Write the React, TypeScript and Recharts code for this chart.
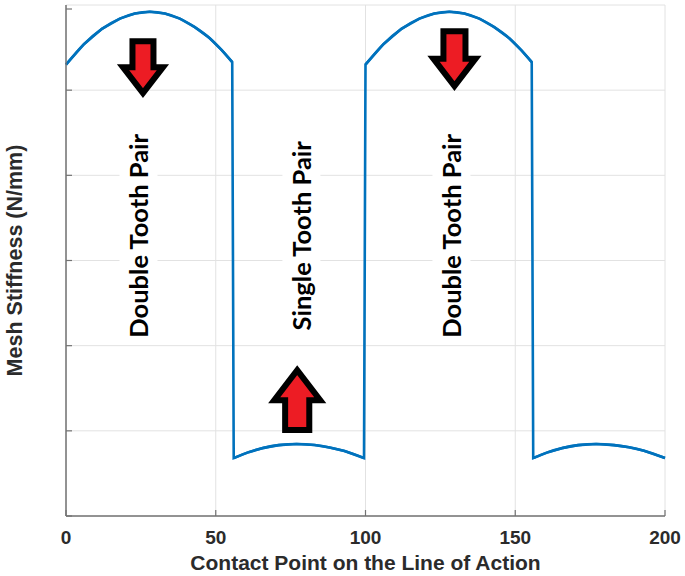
import { LineChart, Line, XAxis, YAxis, CartesianGrid, ReferenceDot } from 'recharts';

// contact position along the line of action and the mesh stiffness
const contactPoint = [
    0, 6, 12, 18, 23, 28, 33, 38, 43, 48, 52, 55.5,
    56, 61, 66, 71, 77, 83, 88, 93, 99.5,
    100, 106, 112, 118, 123, 128, 133, 138, 143, 148, 152, 155.5,
    156, 161, 166, 171, 177, 183, 188, 193, 200,
];
const meshStiffness = [
    5.30, 5.54, 5.72, 5.84, 5.90, 5.92, 5.90, 5.84, 5.74, 5.61, 5.47, 5.33,
    0.68, 0.75, 0.80, 0.832, 0.845, 0.833, 0.805, 0.762, 0.68,
    5.30, 5.54, 5.72, 5.84, 5.90, 5.92, 5.90, 5.84, 5.74, 5.61, 5.47, 5.33,
    0.68, 0.75, 0.80, 0.832, 0.845, 0.832, 0.807, 0.766, 0.68,
];
// index ranges of the smooth stretches between the jumps
const arcStart = [0, 12, 21, 33];
const arcEnd = [11, 20, 32, 41];

const xTicks = [0, 50, 100, 150, 200];
const yTicks = [0, 1, 2, 3, 4, 5, 6];

const regionNames = ['Double Tooth Pair', 'Single Tooth Pair', 'Double Tooth Pair'];
const regionX = [24.2, 78.6, 128.7];
const regionY = [3.29, 3.29, 3.29];

const arrowX = [25.7, 129.7, 77.2];
const arrowY = [5.27, 5.37, 1.36];
const arrowDir = ['down', 'down', 'up'];
const arrowScale = [1, 1.05, 1.15];

const data = contactPoint.map((x, i) => ({ x, k: meshStiffness[i] }));
const arcs = arcStart.map((s, i) => data.slice(s, arcEnd[i] + 1));

const AXIS = '#737373';
const TEXT = '#2b2b2b';
const BLUE = '#0072bd';
const FONT = '"Liberation Sans", Arial, sans-serif';

const bottomTick = (props: any) => {
    const { x, y, payload } = props;
    return (
        <g>
            <line x1={x} x2={x} y1={y} y2={y - 6} stroke={AXIS} strokeWidth={1.2} />
            <text x={x} y={y + 28} textAnchor="middle" fill={TEXT} fontSize={19} fontWeight="bold" fontFamily={FONT}>
                {payload.value}
            </text>
        </g>
    );
};

const topTick = (props: any) => {
    const { x, y } = props;
    return <line x1={x} x2={x} y1={y} y2={y + 6} stroke={AXIS} strokeWidth={1.2} />;
};

const leftTick = (props: any) => {
    const { x, y } = props;
    return <line x1={x} x2={x + 6} y1={y} y2={y} stroke={AXIS} strokeWidth={1.2} />;
};

const rightTick = (props: any) => {
    const { x, y } = props;
    return <line x1={x} x2={x - 6} y1={y} y2={y} stroke={AXIS} strokeWidth={1.2} />;
};

function regionLabel(text: string) {
    return (props: any) => {
        const { cx, cy } = props;
        return (
            <g>
                <rect x={cx - 19} y={cy - 107} width={38} height={212} fill="#fff" />
                <text
                    x={cx}
                    y={cy}
                    transform={`rotate(-90 ${cx} ${cy})`}
                    textAnchor="middle"
                    dominantBaseline="central"
                    fontSize={25.5}
                    fontWeight="bold"
                    fontFamily="Lato, 'Open Sans', sans-serif"
                    fill="#000"
                >
                    {text}
                </text>
            </g>
        );
    };
}

function arrow(dir: string, s: number) {
    return (props: any) => {
        const { cx, cy } = props;
        const d = dir === 'down' ? 1 : -1;
        const sh = 10.5 * s;
        const hh = 20 * s;
        const len = 26 * s;
        const pts = [
            [cx - sh, cy - d * len],
            [cx + sh, cy - d * len],
            [cx + sh, cy],
            [cx + hh, cy],
            [cx, cy + d * len],
            [cx - hh, cy],
            [cx - sh, cy],
        ]
            .map((p) => p.join(','))
            .join(' ');
        return <polygon points={pts} fill="#ed1c24" stroke="#000" strokeWidth={6} strokeLinejoin="miter" />;
    };
}

export default function App() {
    return (
        <div style={{ position: 'absolute', left: 0, top: 0, background: '#fff' }}>
            <LineChart width={685} height={576} data={data} margin={{ top: 5, right: 20, bottom: 0, left: 0 }}>
                <CartesianGrid stroke="#e2e2e2" strokeWidth={1} />
                <XAxis
                    dataKey="x"
                    type="number"
                    domain={[0, 200]}
                    ticks={xTicks}
                    height={60}
                    tickSize={0}
                    tickMargin={0}
                    tickLine={false}
                    tick={bottomTick}
                    stroke={AXIS}
                    strokeWidth={1.5}
                    label={{
                        value: 'Contact Point on the Line of Action',
                        position: 'insideBottom',
                        offset: 6,
                        fill: TEXT,
                        fontSize: 21,
                        fontWeight: 'bold',
                        fontFamily: FONT,
                    }}
                />
                <XAxis
                    xAxisId="top"
                    orientation="top"
                    dataKey="x"
                    type="number"
                    domain={[0, 200]}
                    allowDataOverflow
                    ticks={xTicks}
                    height={0}
                    tickSize={0}
                    tickMargin={0}
                    tickLine={false}
                    tick={topTick}
                    stroke={AXIS}
                    strokeWidth={1.5}
                />
                <YAxis
                    type="number"
                    domain={[0, 6]}
                    ticks={yTicks}
                    width={66}
                    tickSize={0}
                    tickMargin={0}
                    tickLine={false}
                    tick={leftTick}
                    stroke={AXIS}
                    strokeWidth={1.5}
                    label={{
                        value: 'Mesh Stiffness (N/mm)',
                        angle: -90,
                        position: 'insideLeft',
                        offset: 14,
                        style: { textAnchor: 'middle' },
                        fill: TEXT,
                        fontSize: 21.5,
                        fontWeight: 'bold',
                        fontFamily: FONT,
                    }}
                />
                <YAxis
                    yAxisId="right"
                    orientation="right"
                    type="number"
                    domain={[0, 6]}
                    allowDataOverflow
                    ticks={yTicks}
                    width={0}
                    tickSize={0}
                    tickMargin={0}
                    tickLine={false}
                    tick={rightTick}
                    stroke={AXIS}
                    strokeWidth={1.5}
                />
                {/* straight segments carry the vertical jumps */}
                <Line
                    type="linear"
                    dataKey="k"
                    stroke={BLUE}
                    strokeWidth={2.6}
                    dot={false}
                    isAnimationActive={false}
                />
                {/* smooth arcs laid over each stretch */}
                {arcs.map((arc, i) => (
                    <Line
                        key={'arc' + i}
                        data={arc}
                        type="monotone"
                        dataKey="k"
                        stroke={BLUE}
                        strokeWidth={2.6}
                        dot={false}
                        isAnimationActive={false}
                    />
                ))}
                {regionNames.map((name, i) => (
                    <ReferenceDot
                        key={'r' + i}
                        x={regionX[i]}
                        y={regionY[i]}
                        r={0}
                        ifOverflow="visible"
                        shape={regionLabel(name)}
                    />
                ))}
                {arrowX.map((ax, i) => (
                    <ReferenceDot
                        key={'a' + i}
                        x={ax}
                        y={arrowY[i]}
                        r={0}
                        ifOverflow="visible"
                        shape={arrow(arrowDir[i], arrowScale[i])}
                    />
                ))}
            </LineChart>
        </div>
    );
}
